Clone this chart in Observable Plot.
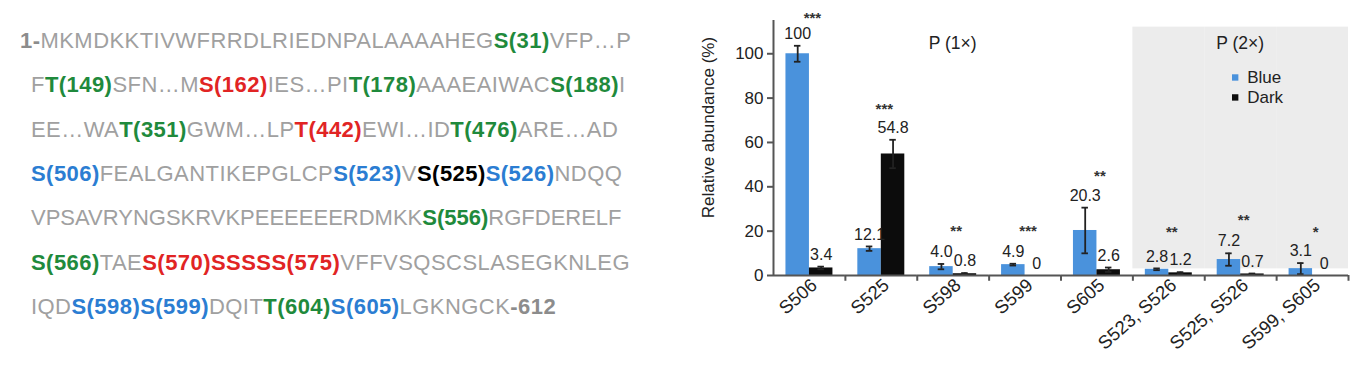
<!DOCTYPE html>
<html>
<head>
<meta charset="utf-8">
<script src="https://cdn.jsdelivr.net/npm/d3@7"></script>
<script src="https://cdn.jsdelivr.net/npm/@observablehq/plot@0.6"></script>
<style>
  html, body { margin: 0; padding: 0; background: #ffffff; width: 1370px; height: 378px; overflow: hidden; }
  #seq { position: absolute; left: 0; top: 0; width: 680px; height: 378px; font-family: "Liberation Sans", Arial, sans-serif; }
  .line { position: absolute; white-space: nowrap; font-size: 22px; line-height: 26px; letter-spacing: 0.45px; }
  .p { color: #a0a0a0; }
  .n { color: #8c8c8c; font-weight: bold; }
  .g { color: #1f8a3c; font-weight: bold; }
  .r { color: #e12424; font-weight: bold; }
  .b { color: #2b7dd2; font-weight: bold; }
  .k { color: #000000; font-weight: bold; }
  #chart { position: absolute; left: 690px; top: 0; }
</style>
</head>
<body>
<div id="seq"></div>
<div id="chart"></div>
<script>
// ---- Sequence (left panel) ----
const seqLine1 = [["1-","n"],["MKMDKKTIVWFRRDLRIEDNPALAAAAHEG","p"],["S(31)","g"],["VFP…P","p"]];
const seqLine2 = [["F","p"],["T(149)","g"],["SFN…M","p"],["S(162)","r"],["IES…PI","p"],["T(178)","g"],["AAAEAIWAC","p"],["S(188)","g"],["I","p"]];
const seqLine3 = [["EE…WA","p"],["T(351)","g"],["GWM…LP","p"],["T(442)","r"],["EWI…ID","p"],["T(476)","g"],["ARE…AD","p"]];
const seqLine4 = [["S(506)","b"],["FEALGANTIKEPGLCP","p"],["S(523)","b"],["V","p"],["S(525)","k"],["S(526)","b"],["NDQQ","p"]];
const seqLine5 = [["VPSAVRYNGSKRVKPEEEEEERDMKK","p"],["S(556)","g"],["RGFDERELF","p"]];
const seqLine6 = [["S(566)","g"],["TAE","p"],["S(570)SSSSS(575)","r"],["VFFVSQSCSLASEGKNLEG","p"]];
const seqLine7 = [["IQD","p"],["S(598)","b"],["S(599)","b"],["DQIT","p"],["T(604)","g"],["S(605)","b"],["LGKNGCK","p"],["-612","n"]];
const seqLines = [seqLine1, seqLine2, seqLine3, seqLine4, seqLine5, seqLine6, seqLine7];

const seqDiv = document.getElementById("seq");
seqLines.forEach((segs, i) => {
  const div = document.createElement("div");
  div.className = "line";
  div.style.left = (i === 0 ? 20 : 31) + "px";
  div.style.top = (41 + i * 44.3 - 13) + "px";
  if (i === 4) div.style.letterSpacing = "0px";
  segs.forEach(([t, c]) => {
    const s = document.createElement("span");
    s.className = c;
    s.textContent = t;
    div.appendChild(s);
  });
  seqDiv.appendChild(div);
});

// ---- Chart data ----
const groups = ["S506", "S525", "S598", "S599", "S605", "S523, S526", "S525, S526", "S599, S605"];
const seriesNames = ["Blue", "Dark"];
const blueValues = [100, 12.1, 4.0, 4.9, 20.3, 2.8, 7.2, 3.1];
const darkValues = [3.4, 54.8, 0.8, 0, 2.6, 1.2, 0.7, 0];
const blueErrors = [3.6, 1.0, 1.2, 0.4, 10.3, 0.4, 2.8, 2.5];
const darkErrors = [0.6, 6.4, 0.3, 0, 1.0, 0.3, 0.2, 0];
const blueLabels = ["100", "12.1", "4.0", "4.9", "20.3", "2.8", "7.2", "3.1"];
const darkLabels = ["3.4", "54.8", "0.8", "0", "2.6", "1.2", "0.7", "0"];
const starLabels = ["***", "***", "**", "***", "**", "**", "**", "*"];
const starY = [116, 75, 20, 20, 44.6, 19.4, 25, 19.4];
const yTicks = [0, 20, 40, 60, 80, 100];
const shadedGroups = ["S523, S526", "S525, S526", "S599, S605"];
const panelLabels = [{g: "S598", t: "P (1×)", dx: 0}, {g: "S525, S526", t: "P (2×)", dx: 10}];
const yLabel = "Relative abundance (%)";
const colors = ["#4a92dc", "#0c0c0c"];

const rows = [];
groups.forEach((g, i) => {
  rows.push({g, s: "Blue", v: blueValues[i], e: blueErrors[i], label: blueLabels[i]});
  rows.push({g, s: "Dark", v: darkValues[i], e: darkErrors[i], label: darkLabels[i]});
});
const errRows = rows.filter(d => d.e > 0);
const starRows = groups.map((g, i) => ({g, t: starLabels[i], y: starY[i]}));
const legendRows = seriesNames.map((s, i) => ({g: "S525, S526", s, y: [89.3, 80.3][i]}));

const font = "'Liberation Sans', Arial, sans-serif";
const half = 24.2; // distance from a bar centre to the facet edge

const chart = Plot.plot({
  width: 680,
  height: 378,
  marginLeft: 83,
  marginRight: 22,
  marginTop: 20,
  marginBottom: 103,
  style: {fontFamily: font, fontSize: "16px", background: "transparent", overflow: "visible", color: "#222"},
  fx: {domain: groups, padding: 0, round: false},
  x: {domain: seriesNames, paddingInner: 0, paddingOuter: 0.53, round: false, axis: null},
  y: {domain: [0, 115]},
  color: {domain: seriesNames, range: colors},
  marks: [
    Plot.barY(shadedGroups.map(g => ({g})), {fx: "g", y1: 3, y2: 112, fill: "#ececec"}),
    Plot.barY(rows, {fx: "g", x: "s", y: "v", fill: "s"}),
    Plot.ruleX(errRows, {fx: "g", x: "s", y1: d => d.v - d.e, y2: d => d.v + d.e, stroke: "#222", strokeWidth: 1.8}),
    Plot.tickY(errRows, {fx: "g", x: "s", y: d => d.v + d.e, stroke: "#222", strokeWidth: 1.8, insetLeft: 8.5, insetRight: 8.5}),
    Plot.tickY(errRows, {fx: "g", x: "s", y: d => d.v - d.e, stroke: "#222", strokeWidth: 1.8, insetLeft: 8.5, insetRight: 8.5}),
    Plot.ruleY([0], {stroke: "#555", strokeWidth: 2}),
    Plot.ruleX([{g: "S506"}], {fx: "g", x: () => "Blue", dx: -half, y1: 0, y2: 115, stroke: "#555", strokeWidth: 2}),
    Plot.ruleX(groups.map(g => ({g})), {fx: "g", x: () => "Dark", dx: half, y1: 0, y2: -2.6, stroke: "#555", strokeWidth: 2}),
    Plot.axisY({ticks: yTicks, tickSize: 6, tickPadding: 4, fontSize: 17, label: null, stroke: "#555", strokeWidth: 2}),
    Plot.axisFx({anchor: "bottom", tickSize: 0, tickRotate: -41, fontSize: 18.5, label: null, tickPadding: 7, dx: 5}),
    Plot.text(rows, {fx: "g", x: "s", y: d => d.v + d.e, text: "label", dy: -12, fontSize: 16, fill: "#222"}),
    Plot.text(starRows, {fx: "g", y: "y", text: "t", fontSize: 15, fontWeight: "bold", fill: "#333", dx: 3}),
    Plot.text(panelLabels, {fx: "g", y: () => 104.6, text: "t", dx: "dx", fontSize: 17.5, fill: "#222"}),
    Plot.dot(legendRows, {fx: "g", y: "y", fill: "s", symbol: "square", r: 3.6, dx: -5.5}),
    Plot.text(legendRows, {fx: "g", y: "y", text: "s", dx: 6.5, textAnchor: "start", fontSize: 17, fill: "#222"}),
    Plot.text([{g: "S506"}], {fx: "g", x: () => "Blue", dx: -half - 65, y: () => 66.7, rotate: -90, text: () => yLabel, fontSize: 17, fill: "#222"})
  ]
});
document.getElementById("chart").appendChild(chart);
</script>
</body>
</html>
